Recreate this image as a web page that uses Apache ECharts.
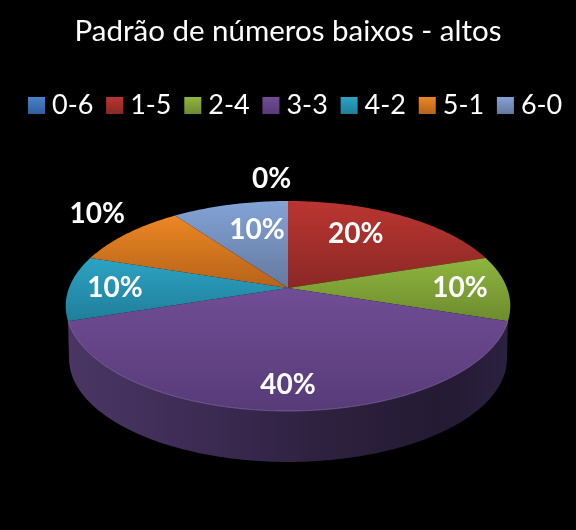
<!DOCTYPE html>
<html><head><meta charset="utf-8">
<style>html,body{margin:0;padding:0;background:#000}#c{width:576px;height:530px}</style>
<script src="https://cdn.jsdelivr.net/npm/echarts@6/dist/echarts.min.js"></script>
</head><body><div id="c"></div>
<script>
const categories = ['0-6','1-5','2-4','3-3','4-2','5-1','6-0'];
const values = [0,20,10,40,10,10,10];
const chartTitle = 'Padrão de números baixos - altos';

// styling, kept apart from the data
const topLight = ['#4a82c8','#bb3531','#8fb53f','#714d95','#2da3c4','#ec8723','#83a3d6'];
const topDark  = ['#2f5f9c','#8a2825','#6d8b2e','#573b78','#1f7e9a','#b5631a','#64799e'];
const labelAngle = [-4,30,90,180,270,310,346];
const labelReach = [1.32,0.68,0.785,0.818,0.79,1.3,0.65];

// oblique projection of the round pie
const CX=288, CY=288, RX=219, RY=101.9, K=0.1714, DEPTH=52.8, SHRINK=0.985;
const RIM_WIDEST=Math.acos(-K)*180/Math.PI;   // angle where the rim is widest
function project(deg, reach, lower){
  const a=deg*Math.PI/180, X=Math.sin(a)*reach, Y=Math.cos(a)*reach;
  const d=1+K*Y, s=lower?SHRINK:1;
  return [CX+s*RX*X/d, CY-s*RY*Y/d+(lower?DEPTH:0)];
}
function arc(from,to,lower){
  const pts=[], n=Math.max(2,Math.ceil(Math.abs(to-from)));
  for(let i=0;i<=n;i++) pts.push(project(from+(to-from)*i/n,1,lower));
  return pts;
}
const total=values.reduce((a,b)=>a+b,0);
const starts=[]; values.reduce((acc,v,i)=>{starts[i]=acc;return acc+v/total*360;},0);

function vGrad(a,b){return {type:'linear',x:0,y:0,x2:0,y2:1,colorStops:[{offset:0,color:a},{offset:1,color:b}]};}
function wallGrad(){return {type:'linear',x:0,y:0,x2:1,y2:0,colorStops:[
  {offset:0,color:'#4a3664'},{offset:0.3,color:'#3d2b54'},{offset:0.55,color:'#2f2241'},
  {offset:0.85,color:'#241a32'},{offset:1,color:'#2c2040'}]};}

function renderSlice(i){
  return function(params,api){
    const v=api.value(0), from=starts[i], to=from+v/total*360;
    const children=[];
    if(v>0){
      const top=arc(from,to,false);
      // only the slice at the front shows its side wall, out to the rim's widest points
      if(from<=180 && to>=180){
        const low=arc(RIM_WIDEST,360-RIM_WIDEST,true).reverse();
        children.push({type:'polygon',z2:1,shape:{points:top.concat(low)},style:{fill:wallGrad()}});
        children.push({type:'polyline',z2:11,shape:{points:top},
          style:{fill:'none',stroke:'rgba(170,140,205,0.45)',lineWidth:1}});
      }
      children.push({type:'polygon',z2:10,shape:{points:[[CX,CY]].concat(top)},
        style:{fill:vGrad(topLight[i],topDark[i])}});
    }
    const p=project(labelAngle[i],labelReach[i],false);
    children.push({type:'text',z2:20,style:{text:v+'%',x:p[0],y:p[1],align:'center',verticalAlign:'middle',
      fill:'#fff',font:'bold 28px Lato'}});
    return {type:'group',children};
  };
}

const chart=echarts.init(document.getElementById('c'),null,{renderer:'canvas'});
chart.setOption({
  backgroundColor:'#000',
  animation:false,
  title:{text:chartTitle,left:'center',top:11,textStyle:{color:'#fff',fontFamily:'Lato',fontSize:29.5,fontWeight:'normal'}},
  legend:{data:categories,left:23,top:87,icon:'rect',itemWidth:17,itemHeight:17,itemGap:12.8,
    textStyle:{color:'#fff',fontFamily:'Lato',fontSize:27,padding:[0,0,0,2]}},
  series:categories.map((name,i)=>({
    name,type:'custom',coordinateSystem:'none',silent:true,
    itemStyle:{color:vGrad(topLight[i],topDark[i])},
    renderItem:renderSlice(i),
    data:[[values[i]]]
  }))
});
</script></body></html>
